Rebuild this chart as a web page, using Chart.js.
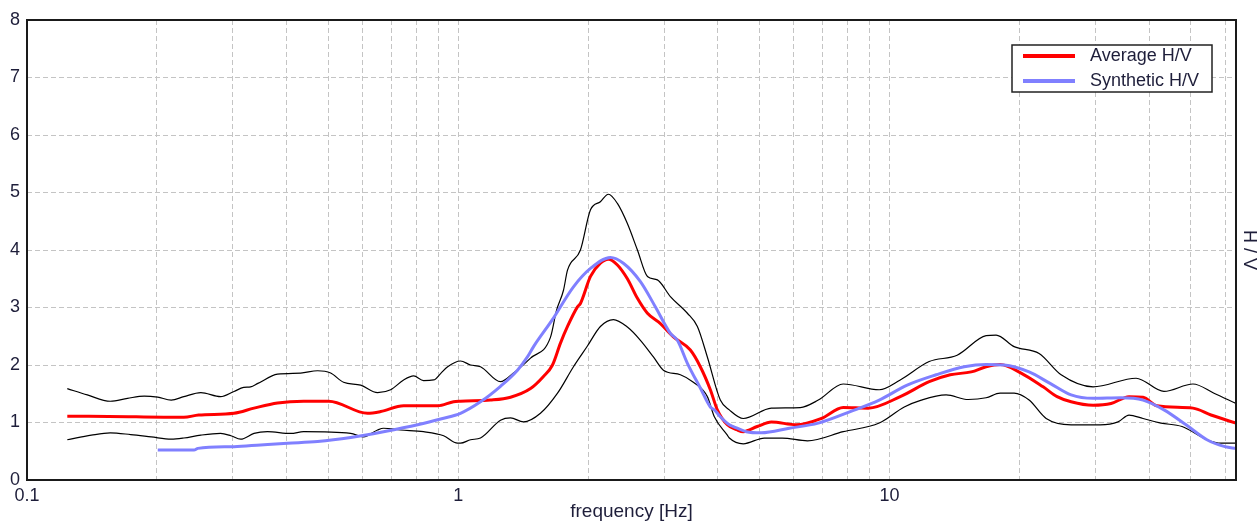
<!DOCTYPE html>
<html>
<head>
<meta charset="utf-8">
<script src="https://cdn.jsdelivr.net/npm/chart.js@4.4.1/dist/chart.umd.min.js"></script>
<style>
  html, body { margin: 0; padding: 0; background: #fff; }
  #wrap { width: 1260px; height: 523px; }
</style>
</head>
<body>
<div id="wrap"><canvas id="hvChart" width="1260" height="523"></canvas></div>
<script>
// average H/V curve
const avgFreq = [0.124, 0.139, 0.231, 0.250, 0.302, 0.336, 0.381, 0.438, 0.501, 0.616, 0.661, 0.747, 0.896, 0.975, 1.012,
  1.188, 1.322, 1.471, 1.576, 1.654, 1.726, 1.792, 1.890, 1.920, 2.026, 2.136, 2.229, 2.339, 2.467, 2.603, 2.746, 2.943,
  3.154, 3.453, 3.642, 3.842, 3.988, 4.207, 4.437, 4.581, 4.935, 5.321, 6.078, 6.948, 7.811, 8.926, 10.59, 12.36, 13.83,
  15.47, 16.75, 18.05, 20.19, 22.71, 24.47, 26.37, 29.65, 32.64, 35.93, 38.72, 41.72, 50.54, 55.65, 63.6];
const avgHV = [1.11, 1.11, 1.09, 1.13, 1.16, 1.25, 1.34, 1.37, 1.37, 1.16, 1.19, 1.29, 1.29, 1.36, 1.37,
  1.39, 1.44, 1.59, 1.80, 2.00, 2.38, 2.67, 3.01, 3.07, 3.54, 3.77, 3.84, 3.74, 3.50, 3.16, 2.90, 2.72,
  2.49, 2.26, 1.97, 1.57, 1.22, 0.96, 0.87, 0.84, 0.93, 1.01, 0.96, 1.07, 1.26, 1.25, 1.45, 1.71, 1.83,
  1.88, 1.97, 2.01, 1.86, 1.62, 1.45, 1.36, 1.30, 1.33, 1.45, 1.44, 1.29, 1.25, 1.13, 0.99];

// synthetic H/V curve
const synFreq = [0.201, 0.244, 0.249, 0.302, 0.348, 0.402, 0.472, 0.563, 0.671, 0.805, 0.920, 1.012, 1.126, 1.253, 1.372,
  1.447, 1.495, 1.650, 1.850, 2.026, 2.254, 2.415, 2.645, 2.870, 3.104, 3.222, 3.399, 3.642, 3.842, 3.925, 4.052, 4.252,
  4.344, 4.656, 5.042, 5.856, 6.837, 8.110, 9.467, 10.99, 12.83, 14.90, 16.75, 18.44, 21.07, 23.57, 26.37, 29.65, 34.43,
  38.72, 43.30, 48.71, 54.46, 59.96, 63.6];
const synHV = [0.52, 0.52, 0.55, 0.58, 0.61, 0.64, 0.67, 0.74, 0.84, 0.96, 1.07, 1.16, 1.36, 1.63, 1.91,
  2.14, 2.32, 2.78, 3.36, 3.68, 3.87, 3.77, 3.45, 3.00, 2.55, 2.43, 2.03, 1.60, 1.27, 1.22, 1.10, 0.96,
  0.93, 0.84, 0.82, 0.90, 0.99, 1.19, 1.39, 1.65, 1.83, 1.97, 2.01, 2.00, 1.88, 1.68, 1.48, 1.42, 1.43,
  1.39, 1.22, 0.96, 0.70, 0.58, 0.55];

// upper standard deviation curve
const hiFreq = [0.124, 0.138, 0.156, 0.171, 0.187, 0.201, 0.216, 0.231, 0.253, 0.281, 0.302, 0.318, 0.330, 0.343, 0.381,
  0.431, 0.472, 0.506, 0.542, 0.594, 0.650, 0.697, 0.747, 0.788, 0.831, 0.877, 0.910, 0.945, 1.012, 1.068, 1.126, 1.253,
  1.343, 1.471, 1.636, 1.690, 1.754, 1.792, 1.920, 2.026, 2.136, 2.229, 2.339, 2.467, 2.603, 2.746, 2.896, 3.104, 3.399,
  3.585, 3.781, 4.052, 4.252, 4.581, 5.321, 6.209, 6.837, 7.811, 9.467, 10.59, 12.36, 14.35, 16.75, 17.67, 19.45, 22.23,
  25.00, 29.65, 37.30, 43.30, 50.54, 56.55, 63.6];
const hiHV = [1.59, 1.48, 1.37, 1.42, 1.46, 1.44, 1.39, 1.45, 1.52, 1.45, 1.54, 1.61, 1.62, 1.68, 1.84,
  1.86, 1.90, 1.86, 1.70, 1.65, 1.52, 1.57, 1.74, 1.81, 1.73, 1.74, 1.85, 1.97, 2.07, 2.00, 1.97, 1.71,
  1.86, 2.12, 2.48, 2.95, 3.30, 3.65, 4.00, 4.70, 4.84, 4.97, 4.81, 4.46, 4.00, 3.54, 3.48, 3.19, 2.90,
  2.67, 2.14, 1.39, 1.22, 1.07, 1.25, 1.26, 1.39, 1.67, 1.57, 1.74, 2.06, 2.17, 2.51, 2.52, 2.32, 2.20,
  1.83, 1.62, 1.77, 1.54, 1.67, 1.51, 1.33];

// lower standard deviation curve
const loFreq = [0.124, 0.141, 0.156, 0.174, 0.194, 0.216, 0.231, 0.253, 0.281, 0.297, 0.313, 0.336, 0.361, 0.409, 0.438,
  0.563, 0.603, 0.650, 0.671, 0.735, 0.831, 0.925, 0.996, 1.012, 1.068, 1.126, 1.253, 1.322, 1.416, 1.551, 1.699, 1.850,
  1.993, 2.136, 2.290, 2.467, 2.645, 2.835, 2.990, 3.274, 3.509, 3.781, 3.925, 4.207, 4.252, 4.581, 5.123, 5.641, 6.453,
  7.811, 9.467, 10.82, 11.85, 13.53, 15.22, 16.75, 18.05, 19.45, 21.07, 23.08, 26.37, 30.78, 33.88, 35.93, 38.72, 42.61,
  47.68, 54.46, 58.69, 63.6];
const loHV = [0.70, 0.78, 0.82, 0.79, 0.75, 0.71, 0.73, 0.78, 0.81, 0.77, 0.71, 0.81, 0.84, 0.81, 0.84,
  0.81, 0.75, 0.87, 0.90, 0.87, 0.84, 0.77, 0.64, 0.64, 0.70, 0.73, 1.04, 1.08, 1.01, 1.16, 1.51, 1.97,
  2.33, 2.67, 2.79, 2.66, 2.43, 2.14, 1.91, 1.83, 1.70, 1.45, 1.10, 0.78, 0.73, 0.63, 0.73, 0.73, 0.68,
  0.84, 0.99, 1.27, 1.39, 1.48, 1.40, 1.43, 1.51, 1.51, 1.39, 1.07, 0.96, 0.96, 1.01, 1.13, 1.07, 0.99,
  0.93, 0.70, 0.64, 0.64];

const gridFreqs = [0.1, 0.2, 0.3, 0.4, 0.5, 0.6, 0.7, 0.8, 0.9, 1, 2, 3, 4, 5, 6, 7, 8, 9, 10, 20, 30, 40, 50, 60];
const labeledFreqs = [0.1, 1, 10];
const yTicks = [0, 1, 2, 3, 4, 5, 6, 7, 8];

const FONT = '"Liberation Sans", Arial, sans-serif';
const TEXT_COLOR = '#1e1e3a';

function pairs(xs, ys) {
  return xs.map((x, i) => ({ x: x, y: ys[i] }));
}

const framePlugin = {
  id: 'frame',
  afterDatasetsDraw(chart) {
    const a = chart.chartArea;
    const ctx = chart.ctx;
    ctx.save();
    ctx.strokeStyle = '#1a1a1a';
    ctx.lineWidth = 2;
    ctx.strokeRect(a.left, a.top, a.right - a.left, a.bottom - a.top);
    ctx.restore();
  }
};

const legendPlugin = {
  id: 'hvLegend',
  afterDraw(chart) {
    const ctx = chart.ctx;
    const right = chart.chartArea.right - 24;
    const left = right - 200;
    const top = 45;
    ctx.save();
    ctx.fillStyle = '#fff';
    ctx.fillRect(left, top, 200, 47);
    ctx.strokeStyle = '#222';
    ctx.lineWidth = 1.5;
    ctx.strokeRect(left, top, 200, 47);
    const items = [['Average H/V', '#ff0000'], ['Synthetic H/V', '#8080ff']];
    ctx.font = '18px ' + FONT;
    ctx.textBaseline = 'middle';
    items.forEach((it, i) => {
      const y = top + 11 + i * 25;
      ctx.strokeStyle = it[1];
      ctx.lineWidth = 4;
      ctx.beginPath();
      ctx.moveTo(left + 11, y);
      ctx.lineTo(left + 63, y);
      ctx.stroke();
      ctx.fillStyle = TEXT_COLOR;
      ctx.fillText(it[0], left + 78, y);
    });
    ctx.restore();
  }
};

const lineStyle = { pointRadius: 0, cubicInterpolationMode: 'monotone' };

new Chart(document.getElementById('hvChart'), {
  type: 'line',
  data: {
    datasets: [
      { ...lineStyle, label: 'upper', data: pairs(hiFreq, hiHV), borderColor: '#000', borderWidth: 1.2, order: 4 },
      { ...lineStyle, label: 'lower', data: pairs(loFreq, loHV), borderColor: '#000', borderWidth: 1.2, order: 3 },
      { ...lineStyle, label: 'Average H/V', data: pairs(avgFreq, avgHV), borderColor: '#ff0000', borderWidth: 3, order: 2 },
      { ...lineStyle, label: 'Synthetic H/V', data: pairs(synFreq, synHV), borderColor: '#8080ff', borderWidth: 3, order: 1 },
    ]
  },
  options: {
    responsive: false,
    animation: false,
    devicePixelRatio: 1,
    layout: { padding: { top: 20, left: 0, right: 0, bottom: 0 } },
    plugins: { legend: { display: false }, tooltip: { enabled: false } },
    scales: {
      x: {
        type: 'logarithmic',
        min: 0.1,
        max: 63.6,
        afterBuildTicks: s => { s.ticks = gridFreqs.map(v => ({ value: v })); },
        afterFit: s => { s.height = 43; },
        ticks: {
          autoSkip: false, maxRotation: 0, padding: 5,
          color: TEXT_COLOR, font: { family: FONT, size: 18 },
          callback: v => labeledFreqs.includes(v) ? String(v) : ''
        },
        grid: { color: '#c4c4c4', lineWidth: 1, drawTicks: false },
        border: { display: false, dash: [5, 3] },
        title: { display: true, text: 'frequency [Hz]', color: TEXT_COLOR, font: { family: FONT, size: 19 }, padding: 0 }
      },
      y: {
        min: 0,
        max: 8,
        afterBuildTicks: s => { s.ticks = yTicks.map(v => ({ value: v })); },
        afterFit: s => { s.width = 27; },
        ticks: { padding: 7, color: TEXT_COLOR, font: { family: FONT, size: 18 } },
        grid: { color: '#c4c4c4', lineWidth: 1, drawTicks: false },
        border: { display: false, dash: [5, 3] }
      },
      y2: {
        position: 'right',
        min: 0,
        max: 8,
        afterFit: s => { s.width = 24; },
        ticks: { display: false },
        grid: { display: false, drawTicks: false },
        border: { display: false },
        title: { display: true, text: 'H / V', color: TEXT_COLOR, font: { family: FONT, size: 18 }, padding: { top: 0, bottom: 0 } }
      }
    }
  },
  plugins: [framePlugin, legendPlugin]
});
</script>
</body>
</html>
